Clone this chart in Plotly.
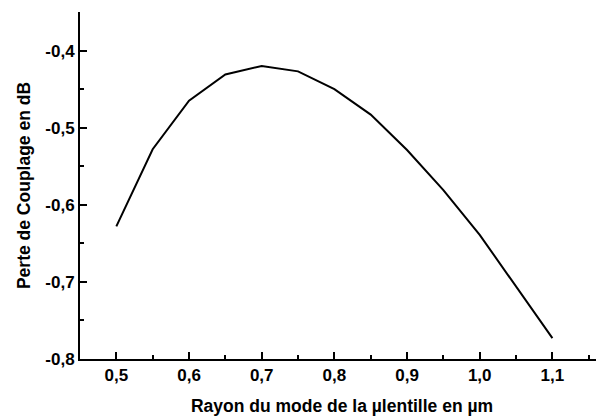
import plotly.graph_objects as go

rayon = [0.5, 0.55, 0.6, 0.65, 0.7, 0.75, 0.8, 0.85, 0.9, 0.95, 1.0, 1.05, 1.1]
perte = [-0.628, -0.528, -0.465, -0.431, -0.420, -0.427, -0.450, -0.483, -0.529, -0.581, -0.639, -0.706, -0.773]

x_tickvals = [0.5, 0.6, 0.7, 0.8, 0.9, 1.0, 1.1]
x_ticktext = ["0,5", "0,6", "0,7", "0,8", "0,9", "1,0", "1,1"]
y_tickvals = [-0.8, -0.7, -0.6, -0.5, -0.4]
y_ticktext = ["-0,8", "-0,7", "-0,6", "-0,5", "-0,4"]

FONT = "Liberation Sans, Arial, sans-serif"

fig = go.Figure()
fig.add_trace(go.Scatter(x=rayon, y=perte, mode="lines",
                         line=dict(color="black", width=2), showlegend=False))

fig.update_layout(
    width=596, height=408,
    margin=dict(l=72, r=0, t=4, b=57, autoexpand=False),
    plot_bgcolor="white", paper_bgcolor="white",
    font=dict(family=FONT, color="black", size=17),
    xaxis=dict(
        range=[0.45, 1.171],
        showline=True, linecolor="black", linewidth=2,
        showgrid=False, zeroline=False,
        ticks="inside", ticklen=7, tickwidth=2, tickcolor="black",
        tickvals=x_tickvals, ticktext=x_ticktext,
        tickfont=dict(family=FONT, size=17, weight="bold"),
        minor=dict(ticks="inside", ticklen=4, tickwidth=2, tickcolor="black", dtick=0.05, tick0=0.45, showgrid=False),
        title=dict(text="<b>Rayon du mode de la µlentille en µm</b>", font=dict(family=FONT, size=17.5), standoff=16),
    ),
    yaxis=dict(
        range=[-0.8, -0.35],
        showline=True, linecolor="black", linewidth=2,
        showgrid=False, zeroline=False,
        ticks="inside", ticklen=7, tickwidth=2, tickcolor="black",
        tickvals=y_tickvals, ticktext=y_ticktext,
        tickfont=dict(family=FONT, size=17, weight="bold"),
        minor=dict(ticks="inside", ticklen=4, tickwidth=2, tickcolor="black", dtick=0.05, tick0=-0.85, showgrid=False),
        title=dict(text="<b>Perte de Couplage en dB</b>", font=dict(family=FONT, size=17.5), standoff=10),
    ),
)

fig.write_html("out.html")
